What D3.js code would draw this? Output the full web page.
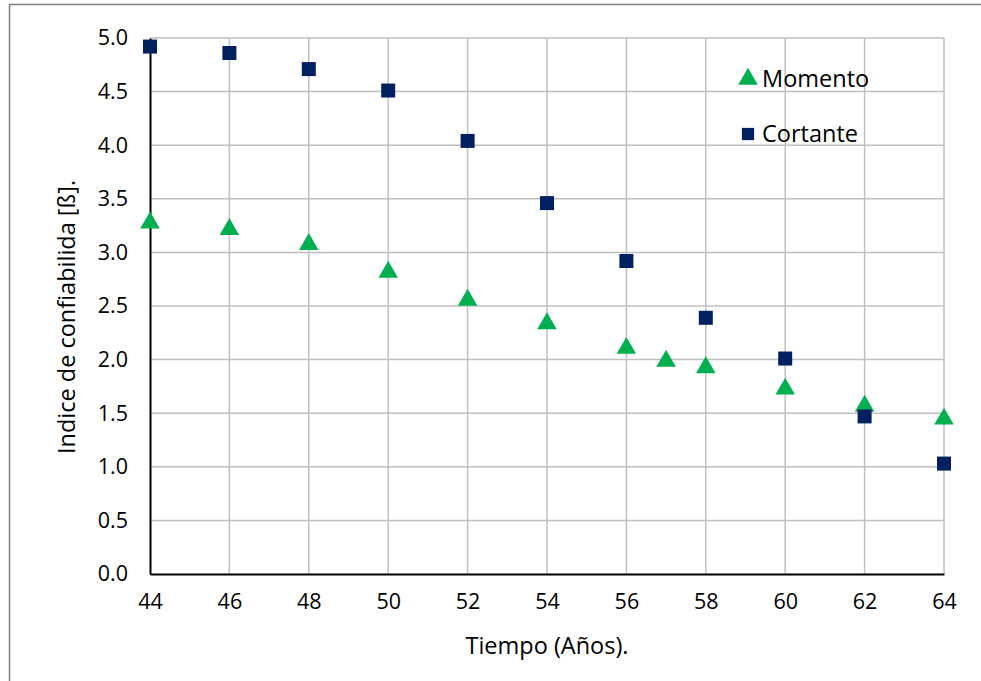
<!DOCTYPE html>
<html lang="en">
  <head>
    <meta charset="UTF-8" />
    <title>Indice de confiabilidad</title>
    <script src="https://cdn.jsdelivr.net/npm/d3@7"></script>
    <style>
      body {
        margin: 0;
        background: #fff;
      }
      text {
        font-family: "Open Sans", "Noto Sans", sans-serif;
        fill: #000;
      }
    </style>
  </head>
  <body>
    <script>
      const width = 981;
      const height = 681;

      // Momento series
      const momentoYears = [44, 46, 48, 50, 52, 54, 56, 57, 58, 60, 62, 64];
      const momentoBeta = [3.29, 3.23, 3.09, 2.83, 2.57, 2.35, 2.12, 2.0, 1.94, 1.74, 1.58, 1.46];

      // Cortante series
      const cortanteYears = [44, 46, 48, 50, 52, 54, 56, 58, 60, 62, 64];
      const cortanteBeta = [4.92, 4.86, 4.71, 4.51, 4.04, 3.46, 2.92, 2.39, 2.01, 1.47, 1.03];

      const xTicks = [44, 46, 48, 50, 52, 54, 56, 58, 60, 62, 64];
      const yTicks = [0, 0.5, 1, 1.5, 2, 2.5, 3, 3.5, 4, 4.5, 5];

      const margin = { left: 150, top: 38, right: 37, bottom: 107 };

      const svg = d3
        .select("body")
        .append("svg")
        .attr("width", width)
        .attr("height", height);

      // outer chart frame (only top/left visible in the window)
      svg
        .append("rect")
        .attr("x", 9.5)
        .attr("y", 4.5)
        .attr("width", width + 20)
        .attr("height", height + 20)
        .attr("fill", "none")
        .attr("stroke", "#7f7f7f")
        .attr("stroke-width", 1.5);

      const x = d3
        .scaleLinear()
        .domain([44, 64])
        .range([margin.left, width - margin.right]);
      const y = d3
        .scaleLinear()
        .domain([0, 5])
        .range([height - margin.bottom, margin.top]);

      // gridlines
      svg
        .append("g")
        .selectAll("line")
        .data(yTicks.filter((d) => d > 0))
        .join("line")
        .attr("x1", x(44))
        .attr("x2", x(64))
        .attr("y1", (d) => y(d))
        .attr("y2", (d) => y(d))
        .attr("stroke", "#c0c0c0")
        .attr("stroke-width", 1.5);

      svg
        .append("g")
        .selectAll("line")
        .data(xTicks.filter((d) => d > 44))
        .join("line")
        .attr("x1", (d) => x(d))
        .attr("x2", (d) => x(d))
        .attr("y1", y(0))
        .attr("y2", y(5))
        .attr("stroke", "#c0c0c0")
        .attr("stroke-width", 1.5);

      // axes
      const xAxis = svg
        .append("g")
        .attr("transform", `translate(0,${y(0)})`)
        .call(
          d3.axisBottom(x).tickValues(xTicks).tickSize(0).tickPadding(20)
        );
      xAxis.select(".domain").attr("stroke", "#000").attr("stroke-width", 2);
      xAxis.selectAll("text").attr("font-size", null).style("font-size", "21.5px");

      const yAxis = svg
        .append("g")
        .attr("transform", `translate(${x(44)},0)`)
        .call(
          d3
            .axisLeft(y)
            .tickValues(yTicks)
            .tickFormat(d3.format(".1f"))
            .tickSize(0)
            .tickPadding(22)
        );
      yAxis.select(".domain").attr("stroke", "#000").attr("stroke-width", 2);
      yAxis.selectAll("text").style("font-size", "21.5px");

      // axis titles
      svg
        .append("text")
        .attr("x", (x(44) + x(64)) / 2)
        .attr("y", 654)
        .attr("text-anchor", "middle")
        .style("font-size", "23.5px")
        .text("Tiempo (Años).");

      svg
        .append("text")
        .attr("transform", `translate(75,317) rotate(-90)`)
        .attr("text-anchor", "middle")
        .style("font-size", "23.5px")
        .text("Indice de confiabilida [ß].");

      const green = "#00b050";
      const navy = "#002060";
      const triangle = d3.symbol().type(d3.symbolTriangle).size(165);
      const square = d3.symbol().type(d3.symbolSquare).size(196);

      // Momento points
      svg
        .append("g")
        .selectAll("path")
        .data(momentoYears.map((d, i) => [d, momentoBeta[i]]))
        .join("path")
        .attr("d", triangle)
        .attr("fill", green)
        .attr("transform", (d) => `translate(${x(d[0])},${y(d[1]) + 1.5})`);

      // Cortante points
      svg
        .append("g")
        .selectAll("path")
        .data(cortanteYears.map((d, i) => [d, cortanteBeta[i]]))
        .join("path")
        .attr("d", square)
        .attr("fill", navy)
        .attr("transform", (d) => `translate(${x(d[0])},${y(d[1])})`);

      // legend
      const legend = svg.append("g");
      legend
        .append("path")
        .attr("d", triangle)
        .attr("fill", green)
        .attr("transform", "translate(748,79)");
      legend
        .append("text")
        .attr("x", 762)
        .attr("y", 87)
        .style("font-size", "23.5px")
        .text("Momento");
      legend
        .append("path")
        .attr("d", d3.symbol().type(d3.symbolSquare).size(150))
        .attr("fill", navy)
        .attr("transform", "translate(748,134)");
      legend
        .append("text")
        .attr("x", 762)
        .attr("y", 142)
        .style("font-size", "23.5px")
        .text("Cortante");
    </script>
  </body>
</html>
